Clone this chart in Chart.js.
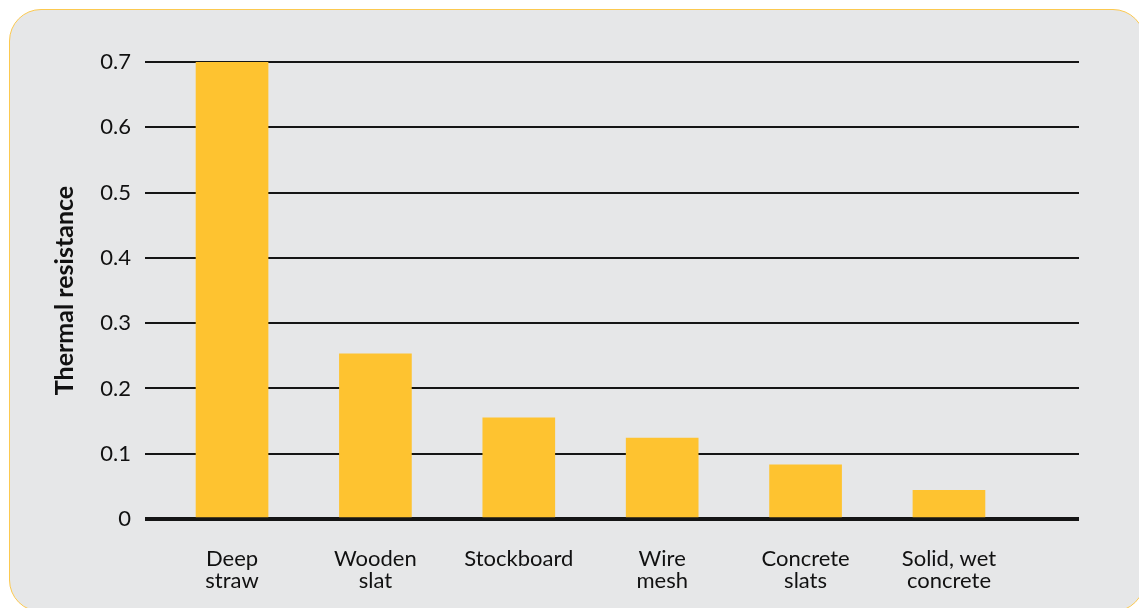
<!DOCTYPE html>
<html>
<head>
<meta charset="utf-8">
<script src="https://cdn.jsdelivr.net/npm/chart.js@4.4.1/dist/chart.umd.min.js"></script>
<style>
  html, body { margin: 0; padding: 0; background: #fff; overflow: hidden; }
  .panel {
    position: absolute; left: 9px; top: 9px; width: 1136px; height: 603px;
    box-sizing: border-box; background: #e6e7e8;
    border: 1.5px solid #fcc94f; border-radius: 32px;
  }
  .chart-container { position: absolute; left: 0; top: 0; width: 1139px; height: 608px; }
</style>
</head>
<body>
<div class="panel"></div>
<div class="chart-container"><canvas id="c" width="1139" height="608"></canvas></div>
<script>
// data
const categories = [
    ['Deep', 'straw'],
    ['Wooden', 'slat'],
    'Stockboard',
    ['Wire', 'mesh'],
    ['Concrete', 'slats'],
    ['Solid, wet', 'concrete']
];
const resistance = [0.70, 0.253, 0.155, 0.124, 0.083, 0.044];
const yTicks = [0, 0.1, 0.2, 0.3, 0.4, 0.5, 0.6, 0.7];

const font = 'Lato, "DejaVu Sans", sans-serif';

new Chart(document.getElementById('c'), {
    type: 'bar',
    data: {
        datasets: [{
            data: resistance.map((v, i) => ({ x: i, y: v })),
            backgroundColor: '#fec330',
            barThickness: 72
        }]
    },
    options: {
        responsive: false,
        animation: false,
        layout: { padding: { left: 40, top: 62, right: 60, bottom: 0 } },
        plugins: { legend: { display: false }, tooltip: { enabled: false } },
        scales: {
            x: {
                type: 'linear',
                offset: false,
                min: -0.607,
                max: 5.907,
                grid: { display: false },
                border: { display: false },
                afterBuildTicks: s => { s.ticks = categories.map((c, i) => ({ value: i })); },
                afterFit: s => { s.height = 89; },
                ticks: {
                    autoSkip: false,
                    maxRotation: 0,
                    padding: 21,
                    color: '#111',
                    font: { family: font, size: 22, lineHeight: 1.0 },
                    callback: v => categories[v]
                }
            },
            y: {
                min: 0,
                max: 0.7,
                afterBuildTicks: s => { s.ticks = yTicks.map(v => ({ value: v })); },
                afterFit: s => { s.width = 105; },
                border: { display: false },
                grid: {
                    drawTicks: false,
                    color: '#151515',
                    lineWidth: c => (c.tick && c.tick.value === 0 ? 4 : 2)
                },
                ticks: {
                    padding: 14,
                    color: '#111',
                    font: { family: font, size: 22 },
                    callback: v => (v === 0 ? '0' : v.toFixed(1))
                },
                title: {
                    display: true,
                    text: 'Thermal resistance',
                    color: '#111',
                    padding: { top: 10, bottom: 0 },
                    font: { family: font, size: 25, weight: 'bold' }
                }
            }
        }
    }
});
</script>
</body>
</html>
